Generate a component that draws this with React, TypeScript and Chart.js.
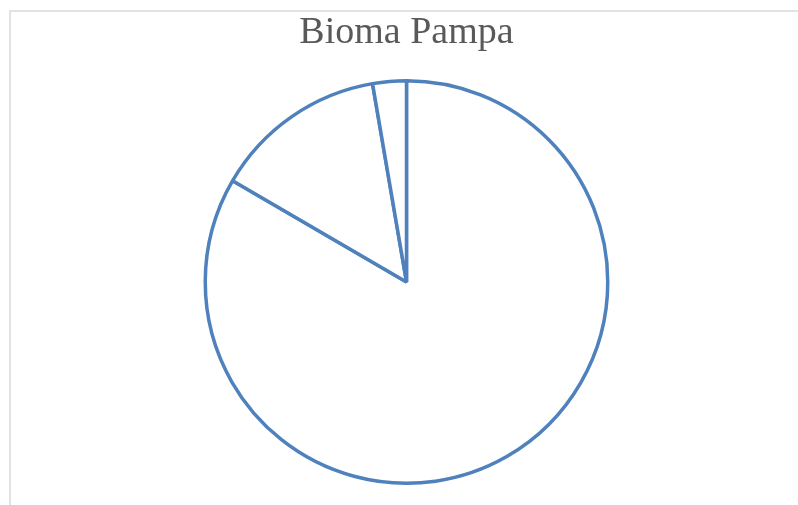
import React, { useEffect, useRef } from "react";
import { Chart, registerables } from "chart.js";

Chart.register(...registerables);

const categories = ["Campo", "Floresta", "Outros"];
const values = [83.4, 13.9, 2.7];
const titleText = "Bioma Pampa";

export default function App() {
  const ref = useRef<HTMLCanvasElement | null>(null);

  useEffect(() => {
    if (!ref.current) return;
    const chart = new Chart(ref.current, {
      type: "pie",
      data: {
        labels: categories,
        datasets: [
          {
            data: values,
            backgroundColor: "#ffffff",
            borderColor: "#4f81bd",
            borderWidth: 3.5,
          },
        ],
      },
      options: {
        animation: false,
        responsive: false,
        layout: { padding: { left: 203.5, right: 188.5, top: 0, bottom: 20 } },
        plugins: {
          legend: { display: false },
          tooltip: { enabled: false },
          title: {
            display: true,
            text: titleText,
            color: "#595959",
            font: { family: "'Liberation Serif', serif", size: 38, weight: "normal", lineHeight: 1.2 },
            padding: { top: 10.6, bottom: 22.8 },
          },
        },
      },
    });
    return () => chart.destroy();
  }, []);

  return (
    <div style={{ position: "fixed", left: 0, top: 0, width: 798, height: 505, background: "#fff", overflow: "hidden" }}>
      <div
        style={{
          position: "absolute",
          left: 9,
          top: 10,
          width: 1000,
          height: 1000,
          borderLeft: "2px solid #e3e3e3",
          borderTop: "2px solid #e3e3e3",
        }}
      />
      <canvas ref={ref} width={798} height={505} style={{ position: "absolute", left: 0, top: 0 }} />
    </div>
  );
}
